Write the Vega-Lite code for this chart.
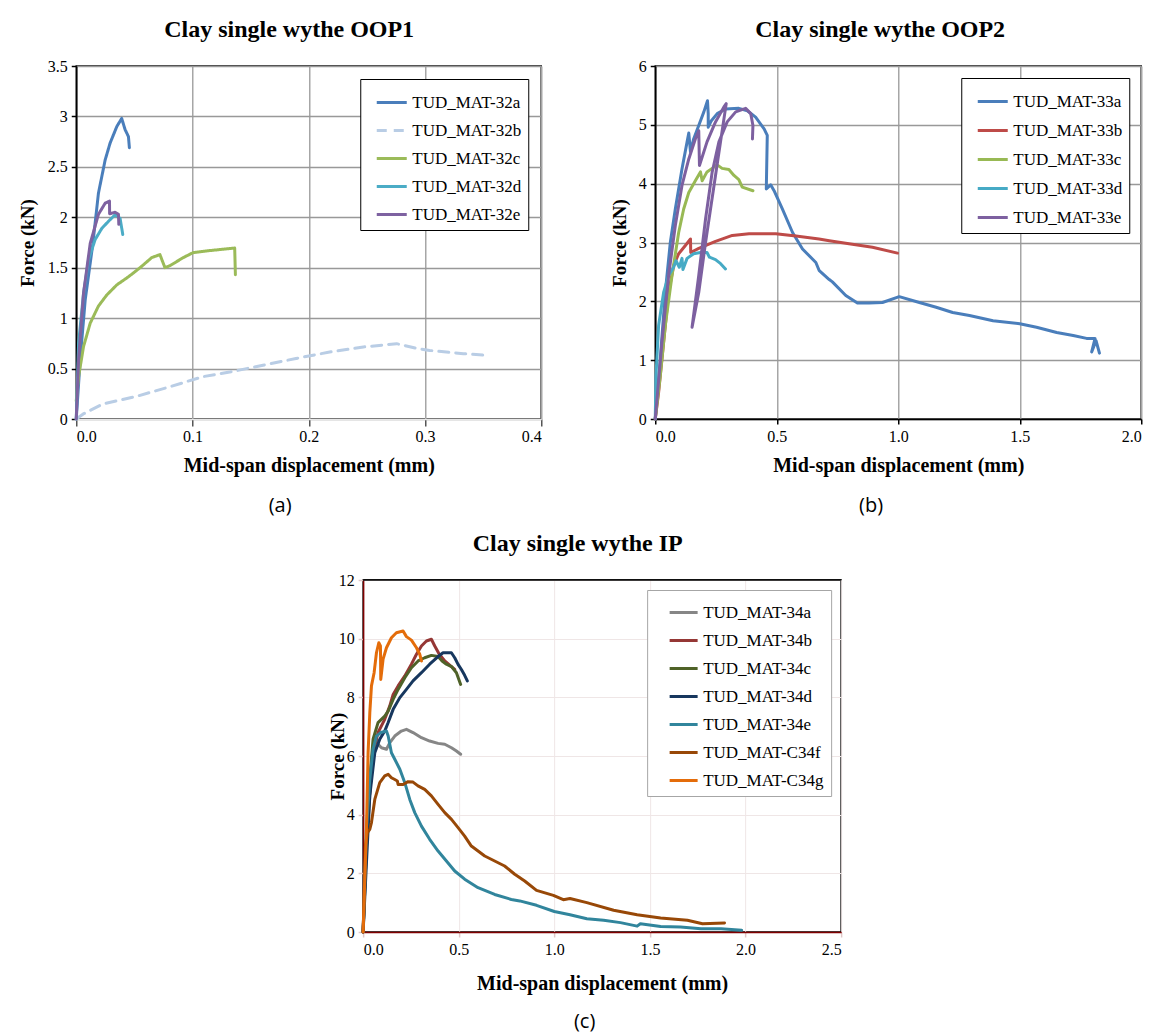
{
"$schema": "https://vega.github.io/schema/vega-lite/v6.json",
"background": "white",
"padding": {"left": 17, "top": 17, "right": 5, "bottom": 5},
"config": {
  "font": "Liberation Serif",
  "title": {"font": "Liberation Serif", "fontSize": 24, "fontWeight": "bold", "color": "black", "offset": 16, "frame": "bounds"},
  "style": {"guide-label": {"font": "Liberation Serif", "fontSize": 16, "fill": "black"}, "guide-title": {"font": "Liberation Serif", "fontSize": 19, "fontWeight": "bold", "fill": "black"}},
  "axis": {"labelFont": "Liberation Serif", "labelFontSize": 16, "labelColor": "black", "titleFont": "Liberation Serif", "titleFontSize": 19, "titleFontWeight": "bold", "titleColor": "black", "domainColor": "black", "domainWidth": 1.5, "tickColor": "black", "tickSize": 5, "tickWidth": 1.5, "gridColor": "#999999", "gridWidth": 1.5, "labelPadding": 4, "titlePadding": 10},
  "axisX": {"titleFontSize": 20, "titlePadding": 11},
  "legend": {"orient": "top-right", "labelFont": "Liberation Serif", "labelFontSize": 17, "labelColor": "black", "symbolType": "stroke", "symbolSize": 900, "symbolStrokeWidth": 3, "rowPadding": 3, "labelOffset": 4, "padding": 7, "symbolOffset": 6, "strokeColor": "black", "fillColor": "white", "labelLimit": 300, "offset": 12},
  "view": {"stroke": "black", "strokeWidth": 1.5},
  "line": {"strokeCap": "round", "strokeJoin": "round"}
},
"datasets": {
"a": [
{"s":"TUD_MAT-32a","i":0,"x":0,"y":0},{"s":"TUD_MAT-32a","i":1,"x":0.0034,"y":0.59},{"s":"TUD_MAT-32a","i":2,"x":0.0077,"y":1.18},{"s":"TUD_MAT-32a","i":3,"x":0.0143,"y":1.74},{"s":"TUD_MAT-32a","i":4,"x":0.0191,"y":2.24},{"s":"TUD_MAT-32a","i":5,"x":0.0249,"y":2.57},{"s":"TUD_MAT-32a","i":6,"x":0.0291,"y":2.735},{"s":"TUD_MAT-32a","i":7,"x":0.0349,"y":2.90},{"s":"TUD_MAT-32a","i":8,"x":0.0391,"y":2.98},{"s":"TUD_MAT-32a","i":9,"x":0.042,"y":2.87},{"s":"TUD_MAT-32a","i":10,"x":0.0449,"y":2.80},{"s":"TUD_MAT-32a","i":11,"x":0.0457,"y":2.69},
{"s":"TUD_MAT-32b","i":0,"x":0,"y":0},{"s":"TUD_MAT-32b","i":1,"x":0.006,"y":0.05},{"s":"TUD_MAT-32b","i":2,"x":0.023,"y":0.15},{"s":"TUD_MAT-32b","i":3,"x":0.052,"y":0.225},{"s":"TUD_MAT-32b","i":4,"x":0.0806,"y":0.32},{"s":"TUD_MAT-32b","i":5,"x":0.109,"y":0.42},{"s":"TUD_MAT-32b","i":6,"x":0.132,"y":0.465},{"s":"TUD_MAT-32b","i":7,"x":0.1606,"y":0.533},{"s":"TUD_MAT-32b","i":8,"x":0.189,"y":0.60},{"s":"TUD_MAT-32b","i":9,"x":0.218,"y":0.664},{"s":"TUD_MAT-32b","i":10,"x":0.247,"y":0.714},{"s":"TUD_MAT-32b","i":11,"x":0.2756,"y":0.747},{"s":"TUD_MAT-32b","i":12,"x":0.293,"y":0.70},{"s":"TUD_MAT-32b","i":13,"x":0.304,"y":0.68},{"s":"TUD_MAT-32b","i":14,"x":0.333,"y":0.648},{"s":"TUD_MAT-32b","i":15,"x":0.3546,"y":0.63},
{"s":"TUD_MAT-32c","i":0,"x":0,"y":0.18},{"s":"TUD_MAT-32c","i":1,"x":0.002,"y":0.42},{"s":"TUD_MAT-32c","i":2,"x":0.0063,"y":0.72},{"s":"TUD_MAT-32c","i":3,"x":0.012,"y":0.95},{"s":"TUD_MAT-32c","i":4,"x":0.0191,"y":1.12},{"s":"TUD_MAT-32c","i":5,"x":0.0263,"y":1.23},{"s":"TUD_MAT-32c","i":6,"x":0.0349,"y":1.33},{"s":"TUD_MAT-32c","i":7,"x":0.0449,"y":1.41},{"s":"TUD_MAT-32c","i":8,"x":0.0549,"y":1.50},{"s":"TUD_MAT-32c","i":9,"x":0.0649,"y":1.60},{"s":"TUD_MAT-32c","i":10,"x":0.072,"y":1.63},{"s":"TUD_MAT-32c","i":11,"x":0.0763,"y":1.50},{"s":"TUD_MAT-32c","i":12,"x":0.0806,"y":1.52},{"s":"TUD_MAT-32c","i":13,"x":0.092,"y":1.60},{"s":"TUD_MAT-32c","i":14,"x":0.1006,"y":1.65},{"s":"TUD_MAT-32c","i":15,"x":0.1149,"y":1.67},{"s":"TUD_MAT-32c","i":16,"x":0.1363,"y":1.695},{"s":"TUD_MAT-32c","i":17,"x":0.1369,"y":1.43},
{"s":"TUD_MAT-32d","i":0,"x":0,"y":0},{"s":"TUD_MAT-32d","i":1,"x":0.002,"y":0.75},{"s":"TUD_MAT-32d","i":2,"x":0.0063,"y":1.25},{"s":"TUD_MAT-32d","i":3,"x":0.0106,"y":1.58},{"s":"TUD_MAT-32d","i":4,"x":0.0163,"y":1.78},{"s":"TUD_MAT-32d","i":5,"x":0.022,"y":1.89},{"s":"TUD_MAT-32d","i":6,"x":0.0277,"y":1.96},{"s":"TUD_MAT-32d","i":7,"x":0.0334,"y":2.025},{"s":"TUD_MAT-32d","i":8,"x":0.0377,"y":1.99},{"s":"TUD_MAT-32d","i":9,"x":0.04,"y":1.83},
{"s":"TUD_MAT-32e","i":0,"x":0,"y":0},{"s":"TUD_MAT-32e","i":1,"x":0.002,"y":0.59},{"s":"TUD_MAT-32e","i":2,"x":0.0063,"y":1.25},{"s":"TUD_MAT-32e","i":3,"x":0.012,"y":1.74},{"s":"TUD_MAT-32e","i":4,"x":0.0191,"y":2.03},{"s":"TUD_MAT-32e","i":5,"x":0.0249,"y":2.14},{"s":"TUD_MAT-32e","i":6,"x":0.0286,"y":2.16},{"s":"TUD_MAT-32e","i":7,"x":0.0287,"y":2.035},{"s":"TUD_MAT-32e","i":8,"x":0.0334,"y":2.05},{"s":"TUD_MAT-32e","i":9,"x":0.0363,"y":2.03},{"s":"TUD_MAT-32e","i":10,"x":0.0366,"y":1.93}
],
"b": [
{"s":"TUD_MAT-33a","i":0,"x":0,"y":0},{"s":"TUD_MAT-33a","i":1,"x":0.0207,"y":1.02},{"s":"TUD_MAT-33a","i":2,"x":0.0413,"y":2.15},{"s":"TUD_MAT-33a","i":3,"x":0.062,"y":3.0},{"s":"TUD_MAT-33a","i":4,"x":0.0826,"y":3.57},{"s":"TUD_MAT-33a","i":5,"x":0.110,"y":4.25},{"s":"TUD_MAT-33a","i":6,"x":0.131,"y":4.71},{"s":"TUD_MAT-33a","i":7,"x":0.138,"y":4.86},{"s":"TUD_MAT-33a","i":8,"x":0.145,"y":4.54},{"s":"TUD_MAT-33a","i":9,"x":0.158,"y":4.76},{"s":"TUD_MAT-33a","i":10,"x":0.179,"y":4.99},{"s":"TUD_MAT-33a","i":11,"x":0.20,"y":5.22},{"s":"TUD_MAT-33a","i":12,"x":0.215,"y":5.41},{"s":"TUD_MAT-33a","i":13,"x":0.218,"y":5.19},{"s":"TUD_MAT-33a","i":14,"x":0.218,"y":4.96},{"s":"TUD_MAT-33a","i":15,"x":0.231,"y":5.07},{"s":"TUD_MAT-33a","i":16,"x":0.255,"y":5.19},{"s":"TUD_MAT-33a","i":17,"x":0.289,"y":5.27},{"s":"TUD_MAT-33a","i":18,"x":0.344,"y":5.28},{"s":"TUD_MAT-33a","i":19,"x":0.379,"y":5.24},{"s":"TUD_MAT-33a","i":20,"x":0.413,"y":5.13},{"s":"TUD_MAT-33a","i":21,"x":0.448,"y":4.93},{"s":"TUD_MAT-33a","i":22,"x":0.461,"y":4.82},{"s":"TUD_MAT-33a","i":23,"x":0.457,"y":3.91},{"s":"TUD_MAT-33a","i":24,"x":0.475,"y":3.98},{"s":"TUD_MAT-33a","i":25,"x":0.489,"y":3.88},{"s":"TUD_MAT-33a","i":26,"x":0.523,"y":3.57},{"s":"TUD_MAT-33a","i":27,"x":0.565,"y":3.17},{"s":"TUD_MAT-33a","i":28,"x":0.606,"y":2.89},{"s":"TUD_MAT-33a","i":29,"x":0.661,"y":2.66},{"s":"TUD_MAT-33a","i":30,"x":0.675,"y":2.52},{"s":"TUD_MAT-33a","i":31,"x":0.716,"y":2.37},{"s":"TUD_MAT-33a","i":32,"x":0.729,"y":2.33},{"s":"TUD_MAT-33a","i":33,"x":0.784,"y":2.10},{"s":"TUD_MAT-33a","i":34,"x":0.832,"y":1.97},{"s":"TUD_MAT-33a","i":35,"x":0.880,"y":1.97},{"s":"TUD_MAT-33a","i":36,"x":0.935,"y":1.98},{"s":"TUD_MAT-33a","i":37,"x":1.004,"y":2.08},{"s":"TUD_MAT-33a","i":38,"x":1.087,"y":1.98},{"s":"TUD_MAT-33a","i":39,"x":1.156,"y":1.90},{"s":"TUD_MAT-33a","i":40,"x":1.224,"y":1.81},{"s":"TUD_MAT-33a","i":41,"x":1.293,"y":1.76},{"s":"TUD_MAT-33a","i":42,"x":1.39,"y":1.67},{"s":"TUD_MAT-33a","i":43,"x":1.50,"y":1.62},{"s":"TUD_MAT-33a","i":44,"x":1.569,"y":1.56},{"s":"TUD_MAT-33a","i":45,"x":1.652,"y":1.47},{"s":"TUD_MAT-33a","i":46,"x":1.72,"y":1.42},{"s":"TUD_MAT-33a","i":47,"x":1.775,"y":1.37},{"s":"TUD_MAT-33a","i":48,"x":1.81,"y":1.37},{"s":"TUD_MAT-33a","i":49,"x":1.796,"y":1.14},{"s":"TUD_MAT-33a","i":50,"x":1.814,"y":1.33},{"s":"TUD_MAT-33a","i":51,"x":1.828,"y":1.12},
{"s":"TUD_MAT-33b","i":0,"x":0,"y":0},{"s":"TUD_MAT-33b","i":1,"x":0.0138,"y":0.45},{"s":"TUD_MAT-33b","i":2,"x":0.0344,"y":1.30},{"s":"TUD_MAT-33b","i":3,"x":0.055,"y":2.15},{"s":"TUD_MAT-33b","i":4,"x":0.0758,"y":2.61},{"s":"TUD_MAT-33b","i":5,"x":0.0964,"y":2.81},{"s":"TUD_MAT-33b","i":6,"x":0.124,"y":2.95},{"s":"TUD_MAT-33b","i":7,"x":0.145,"y":3.06},{"s":"TUD_MAT-33b","i":8,"x":0.146,"y":2.83},{"s":"TUD_MAT-33b","i":9,"x":0.179,"y":2.90},{"s":"TUD_MAT-33b","i":10,"x":0.248,"y":3.02},{"s":"TUD_MAT-33b","i":11,"x":0.317,"y":3.12},{"s":"TUD_MAT-33b","i":12,"x":0.386,"y":3.15},{"s":"TUD_MAT-33b","i":13,"x":0.496,"y":3.15},{"s":"TUD_MAT-33b","i":14,"x":0.579,"y":3.11},{"s":"TUD_MAT-33b","i":15,"x":0.674,"y":3.06},{"s":"TUD_MAT-33b","i":16,"x":0.716,"y":3.03},{"s":"TUD_MAT-33b","i":17,"x":0.811,"y":2.97},{"s":"TUD_MAT-33b","i":18,"x":0.894,"y":2.92},{"s":"TUD_MAT-33b","i":19,"x":0.997,"y":2.82},
{"s":"TUD_MAT-33c","i":0,"x":0,"y":0},{"s":"TUD_MAT-33c","i":1,"x":0.0207,"y":0.74},{"s":"TUD_MAT-33c","i":2,"x":0.0413,"y":1.59},{"s":"TUD_MAT-33c","i":3,"x":0.069,"y":2.44},{"s":"TUD_MAT-33c","i":4,"x":0.0964,"y":3.17},{"s":"TUD_MAT-33c","i":5,"x":0.117,"y":3.57},{"s":"TUD_MAT-33c","i":6,"x":0.138,"y":3.85},{"s":"TUD_MAT-33c","i":7,"x":0.165,"y":4.05},{"s":"TUD_MAT-33c","i":8,"x":0.186,"y":4.20},{"s":"TUD_MAT-33c","i":9,"x":0.193,"y":4.05},{"s":"TUD_MAT-33c","i":10,"x":0.213,"y":4.20},{"s":"TUD_MAT-33c","i":11,"x":0.234,"y":4.26},{"s":"TUD_MAT-33c","i":12,"x":0.255,"y":4.32},{"s":"TUD_MAT-33c","i":13,"x":0.275,"y":4.26},{"s":"TUD_MAT-33c","i":14,"x":0.303,"y":4.24},{"s":"TUD_MAT-33c","i":15,"x":0.324,"y":4.14},{"s":"TUD_MAT-33c","i":16,"x":0.344,"y":4.07},{"s":"TUD_MAT-33c","i":17,"x":0.358,"y":3.94},{"s":"TUD_MAT-33c","i":18,"x":0.402,"y":3.88},
{"s":"TUD_MAT-33d","i":0,"x":0,"y":0},{"s":"TUD_MAT-33d","i":1,"x":0.003,"y":0.74},{"s":"TUD_MAT-33d","i":2,"x":0.0138,"y":1.59},{"s":"TUD_MAT-33d","i":3,"x":0.0344,"y":2.15},{"s":"TUD_MAT-33d","i":4,"x":0.055,"y":2.44},{"s":"TUD_MAT-33d","i":5,"x":0.0758,"y":2.58},{"s":"TUD_MAT-33d","i":6,"x":0.0854,"y":2.69},{"s":"TUD_MAT-33d","i":7,"x":0.099,"y":2.58},{"s":"TUD_MAT-33d","i":8,"x":0.110,"y":2.73},{"s":"TUD_MAT-33d","i":9,"x":0.114,"y":2.54},{"s":"TUD_MAT-33d","i":10,"x":0.131,"y":2.73},{"s":"TUD_MAT-33d","i":11,"x":0.158,"y":2.81},{"s":"TUD_MAT-33d","i":12,"x":0.186,"y":2.83},{"s":"TUD_MAT-33d","i":13,"x":0.213,"y":2.83},{"s":"TUD_MAT-33d","i":14,"x":0.223,"y":2.75},{"s":"TUD_MAT-33d","i":15,"x":0.248,"y":2.71},{"s":"TUD_MAT-33d","i":16,"x":0.269,"y":2.64},{"s":"TUD_MAT-33d","i":17,"x":0.289,"y":2.55},
{"s":"TUD_MAT-33e","i":0,"x":0,"y":0},{"s":"TUD_MAT-33e","i":1,"x":0.0275,"y":1.30},{"s":"TUD_MAT-33e","i":2,"x":0.055,"y":2.44},{"s":"TUD_MAT-33e","i":3,"x":0.0826,"y":3.29},{"s":"TUD_MAT-33e","i":4,"x":0.110,"y":3.97},{"s":"TUD_MAT-33e","i":5,"x":0.138,"y":4.42},{"s":"TUD_MAT-33e","i":6,"x":0.165,"y":4.76},{"s":"TUD_MAT-33e","i":7,"x":0.179,"y":4.90},{"s":"TUD_MAT-33e","i":8,"x":0.182,"y":4.31},{"s":"TUD_MAT-33e","i":9,"x":0.213,"y":4.71},{"s":"TUD_MAT-33e","i":10,"x":0.248,"y":5.05},{"s":"TUD_MAT-33e","i":11,"x":0.282,"y":5.30},{"s":"TUD_MAT-33e","i":12,"x":0.292,"y":5.36},{"s":"TUD_MAT-33e","i":13,"x":0.248,"y":4.14},{"s":"TUD_MAT-33e","i":14,"x":0.207,"y":3.00},{"s":"TUD_MAT-33e","i":15,"x":0.179,"y":2.15},{"s":"TUD_MAT-33e","i":16,"x":0.1515,"y":1.56},{"s":"TUD_MAT-33e","i":17,"x":0.179,"y":2.44},{"s":"TUD_MAT-33e","i":18,"x":0.207,"y":3.40},{"s":"TUD_MAT-33e","i":19,"x":0.234,"y":4.19},{"s":"TUD_MAT-33e","i":20,"x":0.262,"y":4.71},{"s":"TUD_MAT-33e","i":21,"x":0.296,"y":5.05},{"s":"TUD_MAT-33e","i":22,"x":0.331,"y":5.22},{"s":"TUD_MAT-33e","i":23,"x":0.372,"y":5.28},{"s":"TUD_MAT-33e","i":24,"x":0.393,"y":5.19},{"s":"TUD_MAT-33e","i":25,"x":0.402,"y":4.99},{"s":"TUD_MAT-33e","i":26,"x":0.40,"y":4.76}
],
"c": [
{"s":"TUD_MAT-34a","i":0,"x":0,"y":0},{"s":"TUD_MAT-34a","i":1,"x":0.0174,"y":2.93},{"s":"TUD_MAT-34a","i":2,"x":0.0348,"y":4.64},{"s":"TUD_MAT-34a","i":3,"x":0.052,"y":6.34},{"s":"TUD_MAT-34a","i":4,"x":0.061,"y":6.68},{"s":"TUD_MAT-34a","i":5,"x":0.078,"y":6.40},{"s":"TUD_MAT-34a","i":6,"x":0.096,"y":6.28},{"s":"TUD_MAT-34a","i":7,"x":0.122,"y":6.23},{"s":"TUD_MAT-34a","i":8,"x":0.139,"y":6.45},{"s":"TUD_MAT-34a","i":9,"x":0.1655,"y":6.68},{"s":"TUD_MAT-34a","i":10,"x":0.200,"y":6.85},{"s":"TUD_MAT-34a","i":11,"x":0.2265,"y":6.91},{"s":"TUD_MAT-34a","i":12,"x":0.261,"y":6.80},{"s":"TUD_MAT-34a","i":13,"x":0.305,"y":6.625},{"s":"TUD_MAT-34a","i":14,"x":0.348,"y":6.51},{"s":"TUD_MAT-34a","i":15,"x":0.392,"y":6.43},{"s":"TUD_MAT-34a","i":16,"x":0.427,"y":6.40},{"s":"TUD_MAT-34a","i":17,"x":0.462,"y":6.28},{"s":"TUD_MAT-34a","i":18,"x":0.488,"y":6.17},{"s":"TUD_MAT-34a","i":19,"x":0.510,"y":6.06},
{"s":"TUD_MAT-34b","i":0,"x":0,"y":0},{"s":"TUD_MAT-34b","i":1,"x":0.0087,"y":1.80},{"s":"TUD_MAT-34b","i":2,"x":0.026,"y":4.07},{"s":"TUD_MAT-34b","i":3,"x":0.052,"y":6.11},{"s":"TUD_MAT-34b","i":4,"x":0.078,"y":6.80},{"s":"TUD_MAT-34b","i":5,"x":0.113,"y":7.25},{"s":"TUD_MAT-34b","i":6,"x":0.139,"y":7.70},{"s":"TUD_MAT-34b","i":7,"x":0.157,"y":8.10},{"s":"TUD_MAT-34b","i":8,"x":0.183,"y":8.39},{"s":"TUD_MAT-34b","i":9,"x":0.218,"y":8.73},{"s":"TUD_MAT-34b","i":10,"x":0.2526,"y":9.13},{"s":"TUD_MAT-34b","i":11,"x":0.279,"y":9.47},{"s":"TUD_MAT-34b","i":12,"x":0.305,"y":9.75},{"s":"TUD_MAT-34b","i":13,"x":0.331,"y":9.92},{"s":"TUD_MAT-34b","i":14,"x":0.357,"y":9.98},{"s":"TUD_MAT-34b","i":15,"x":0.3746,"y":9.75},{"s":"TUD_MAT-34b","i":16,"x":0.3955,"y":9.50},{"s":"TUD_MAT-34b","i":17,"x":0.427,"y":9.24},{"s":"TUD_MAT-34b","i":18,"x":0.462,"y":9.05},{"s":"TUD_MAT-34b","i":19,"x":0.479,"y":8.95},
{"s":"TUD_MAT-34c","i":0,"x":0,"y":0},{"s":"TUD_MAT-34c","i":1,"x":0.0174,"y":2.93},{"s":"TUD_MAT-34c","i":2,"x":0.0348,"y":5.20},{"s":"TUD_MAT-34c","i":3,"x":0.052,"y":6.57},{"s":"TUD_MAT-34c","i":4,"x":0.078,"y":7.14},{"s":"TUD_MAT-34c","i":5,"x":0.113,"y":7.36},{"s":"TUD_MAT-34c","i":6,"x":0.131,"y":7.53},{"s":"TUD_MAT-34c","i":7,"x":0.157,"y":7.93},{"s":"TUD_MAT-34c","i":8,"x":0.183,"y":8.27},{"s":"TUD_MAT-34c","i":9,"x":0.218,"y":8.67},{"s":"TUD_MAT-34c","i":10,"x":0.2526,"y":9.01},{"s":"TUD_MAT-34c","i":11,"x":0.2875,"y":9.24},{"s":"TUD_MAT-34c","i":12,"x":0.322,"y":9.35},{"s":"TUD_MAT-34c","i":13,"x":0.357,"y":9.43},{"s":"TUD_MAT-34c","i":14,"x":0.392,"y":9.39},{"s":"TUD_MAT-34c","i":15,"x":0.413,"y":9.24},{"s":"TUD_MAT-34c","i":16,"x":0.4355,"y":9.13},{"s":"TUD_MAT-34c","i":17,"x":0.462,"y":9.05},{"s":"TUD_MAT-34c","i":18,"x":0.488,"y":8.84},{"s":"TUD_MAT-34c","i":19,"x":0.510,"y":8.44},
{"s":"TUD_MAT-34d","i":0,"x":0,"y":0},{"s":"TUD_MAT-34d","i":1,"x":0.0174,"y":2.36},{"s":"TUD_MAT-34d","i":2,"x":0.0348,"y":4.64},{"s":"TUD_MAT-34d","i":3,"x":0.061,"y":6.11},{"s":"TUD_MAT-34d","i":4,"x":0.087,"y":6.57},{"s":"TUD_MAT-34d","i":5,"x":0.113,"y":6.85},{"s":"TUD_MAT-34d","i":6,"x":0.131,"y":7.14},{"s":"TUD_MAT-34d","i":7,"x":0.157,"y":7.59},{"s":"TUD_MAT-34d","i":8,"x":0.192,"y":7.99},{"s":"TUD_MAT-34d","i":9,"x":0.2265,"y":8.27},{"s":"TUD_MAT-34d","i":10,"x":0.261,"y":8.56},{"s":"TUD_MAT-34d","i":11,"x":0.305,"y":8.84},{"s":"TUD_MAT-34d","i":12,"x":0.348,"y":9.13},{"s":"TUD_MAT-34d","i":13,"x":0.392,"y":9.39},{"s":"TUD_MAT-34d","i":14,"x":0.418,"y":9.52},{"s":"TUD_MAT-34d","i":15,"x":0.4617,"y":9.52},{"s":"TUD_MAT-34d","i":16,"x":0.479,"y":9.35},{"s":"TUD_MAT-34d","i":17,"x":0.4965,"y":9.125},{"s":"TUD_MAT-34d","i":18,"x":0.514,"y":8.95},{"s":"TUD_MAT-34d","i":19,"x":0.531,"y":8.75},{"s":"TUD_MAT-34d","i":20,"x":0.545,"y":8.56},
{"s":"TUD_MAT-34e","i":0,"x":0,"y":0},{"s":"TUD_MAT-34e","i":1,"x":0.0087,"y":1.80},{"s":"TUD_MAT-34e","i":2,"x":0.0174,"y":3.50},{"s":"TUD_MAT-34e","i":3,"x":0.0348,"y":5.20},{"s":"TUD_MAT-34e","i":4,"x":0.052,"y":6.23},{"s":"TUD_MAT-34e","i":5,"x":0.0697,"y":6.68},{"s":"TUD_MAT-34e","i":6,"x":0.092,"y":6.80},{"s":"TUD_MAT-34e","i":7,"x":0.122,"y":6.85},{"s":"TUD_MAT-34e","i":8,"x":0.131,"y":6.68},{"s":"TUD_MAT-34e","i":9,"x":0.148,"y":6.11},{"s":"TUD_MAT-34e","i":10,"x":0.1655,"y":5.89},{"s":"TUD_MAT-34e","i":11,"x":0.192,"y":5.55},{"s":"TUD_MAT-34e","i":12,"x":0.218,"y":5.09},{"s":"TUD_MAT-34e","i":13,"x":0.244,"y":4.52},{"s":"TUD_MAT-34e","i":14,"x":0.270,"y":4.07},{"s":"TUD_MAT-34e","i":15,"x":0.305,"y":3.61},{"s":"TUD_MAT-34e","i":16,"x":0.348,"y":3.16},{"s":"TUD_MAT-34e","i":17,"x":0.392,"y":2.76},{"s":"TUD_MAT-34e","i":18,"x":0.4355,"y":2.42},{"s":"TUD_MAT-34e","i":19,"x":0.479,"y":2.08},{"s":"TUD_MAT-34e","i":20,"x":0.531,"y":1.80},{"s":"TUD_MAT-34e","i":21,"x":0.601,"y":1.51},{"s":"TUD_MAT-34e","i":22,"x":0.688,"y":1.28},{"s":"TUD_MAT-34e","i":23,"x":0.775,"y":1.11},{"s":"TUD_MAT-34e","i":24,"x":0.819,"y":1.06},{"s":"TUD_MAT-34e","i":25,"x":0.907,"y":0.91},{"s":"TUD_MAT-34e","i":26,"x":1.0,"y":0.70},{"s":"TUD_MAT-34e","i":27,"x":1.082,"y":0.59},{"s":"TUD_MAT-34e","i":28,"x":1.17,"y":0.45},{"s":"TUD_MAT-34e","i":29,"x":1.258,"y":0.40},{"s":"TUD_MAT-34e","i":30,"x":1.346,"y":0.32},{"s":"TUD_MAT-34e","i":31,"x":1.433,"y":0.20},{"s":"TUD_MAT-34e","i":32,"x":1.45,"y":0.28},{"s":"TUD_MAT-34e","i":33,"x":1.556,"y":0.19},{"s":"TUD_MAT-34e","i":34,"x":1.66,"y":0.17},{"s":"TUD_MAT-34e","i":35,"x":1.767,"y":0.11},{"s":"TUD_MAT-34e","i":36,"x":1.872,"y":0.11},{"s":"TUD_MAT-34e","i":37,"x":1.98,"y":0.06},
{"s":"TUD_MAT-C34f","i":0,"x":0,"y":0},{"s":"TUD_MAT-C34f","i":1,"x":0.005,"y":1.23},{"s":"TUD_MAT-C34f","i":2,"x":0.012,"y":2.93},{"s":"TUD_MAT-C34f","i":3,"x":0.0226,"y":3.39},{"s":"TUD_MAT-C34f","i":4,"x":0.0348,"y":3.50},{"s":"TUD_MAT-C34f","i":5,"x":0.0436,"y":3.73},{"s":"TUD_MAT-C34f","i":6,"x":0.061,"y":4.52},{"s":"TUD_MAT-C34f","i":7,"x":0.087,"y":5.09},{"s":"TUD_MAT-C34f","i":8,"x":0.113,"y":5.32},{"s":"TUD_MAT-C34f","i":9,"x":0.131,"y":5.375},{"s":"TUD_MAT-C34f","i":10,"x":0.148,"y":5.26},{"s":"TUD_MAT-C34f","i":11,"x":0.1655,"y":5.20},{"s":"TUD_MAT-C34f","i":12,"x":0.179,"y":5.15},{"s":"TUD_MAT-C34f","i":13,"x":0.183,"y":5.03},{"s":"TUD_MAT-C34f","i":14,"x":0.209,"y":5.03},{"s":"TUD_MAT-C34f","i":15,"x":0.235,"y":5.125},{"s":"TUD_MAT-C34f","i":16,"x":0.261,"y":5.11},{"s":"TUD_MAT-C34f","i":17,"x":0.287,"y":4.98},{"s":"TUD_MAT-C34f","i":18,"x":0.322,"y":4.86},{"s":"TUD_MAT-C34f","i":19,"x":0.357,"y":4.64},{"s":"TUD_MAT-C34f","i":20,"x":0.392,"y":4.35},{"s":"TUD_MAT-C34f","i":21,"x":0.427,"y":4.07},{"s":"TUD_MAT-C34f","i":22,"x":0.462,"y":3.84},{"s":"TUD_MAT-C34f","i":23,"x":0.4965,"y":3.56},{"s":"TUD_MAT-C34f","i":24,"x":0.531,"y":3.27},{"s":"TUD_MAT-C34f","i":25,"x":0.566,"y":2.93},{"s":"TUD_MAT-C34f","i":26,"x":0.601,"y":2.76},{"s":"TUD_MAT-C34f","i":27,"x":0.636,"y":2.59},{"s":"TUD_MAT-C34f","i":28,"x":0.688,"y":2.42},{"s":"TUD_MAT-C34f","i":29,"x":0.740,"y":2.25},{"s":"TUD_MAT-C34f","i":30,"x":0.793,"y":1.97},{"s":"TUD_MAT-C34f","i":31,"x":0.845,"y":1.74},{"s":"TUD_MAT-C34f","i":32,"x":0.907,"y":1.42},{"s":"TUD_MAT-C34f","i":33,"x":0.995,"y":1.25},{"s":"TUD_MAT-C34f","i":34,"x":1.047,"y":1.10},{"s":"TUD_MAT-C34f","i":35,"x":1.082,"y":1.14},{"s":"TUD_MAT-C34f","i":36,"x":1.17,"y":1.0},{"s":"TUD_MAT-C34f","i":37,"x":1.31,"y":0.74},{"s":"TUD_MAT-C34f","i":38,"x":1.433,"y":0.59},{"s":"TUD_MAT-C34f","i":39,"x":1.556,"y":0.48},{"s":"TUD_MAT-C34f","i":40,"x":1.696,"y":0.40},{"s":"TUD_MAT-C34f","i":41,"x":1.775,"y":0.28},{"s":"TUD_MAT-C34f","i":42,"x":1.89,"y":0.31},
{"s":"TUD_MAT-C34g","i":0,"x":0,"y":0},{"s":"TUD_MAT-C34g","i":1,"x":0.0087,"y":1.80},{"s":"TUD_MAT-C34g","i":2,"x":0.0174,"y":3.50},{"s":"TUD_MAT-C34g","i":3,"x":0.026,"y":6.11},{"s":"TUD_MAT-C34g","i":4,"x":0.035,"y":7.48},{"s":"TUD_MAT-C34g","i":5,"x":0.0436,"y":8.39},{"s":"TUD_MAT-C34g","i":6,"x":0.0575,"y":8.84},{"s":"TUD_MAT-C34g","i":7,"x":0.0697,"y":9.52},{"s":"TUD_MAT-C34g","i":8,"x":0.082,"y":9.86},{"s":"TUD_MAT-C34g","i":9,"x":0.0906,"y":9.75},{"s":"TUD_MAT-C34g","i":10,"x":0.0923,"y":8.61},{"s":"TUD_MAT-C34g","i":11,"x":0.1045,"y":9.30},{"s":"TUD_MAT-C34g","i":12,"x":0.122,"y":9.69},{"s":"TUD_MAT-C34g","i":13,"x":0.148,"y":10.03},{"s":"TUD_MAT-C34g","i":14,"x":0.174,"y":10.20},{"s":"TUD_MAT-C34g","i":15,"x":0.209,"y":10.26},{"s":"TUD_MAT-C34g","i":16,"x":0.2265,"y":10.07},{"s":"TUD_MAT-C34g","i":17,"x":0.2526,"y":9.95},{"s":"TUD_MAT-C34g","i":18,"x":0.279,"y":9.69},{"s":"TUD_MAT-C34g","i":19,"x":0.296,"y":9.47},{"s":"TUD_MAT-C34g","i":20,"x":0.305,"y":9.24}
]
},
"vconcat": [
 {"hconcat": [
  {"vconcat": [
   {"width": 465, "height": 353,
    "title": {"text": "Clay single wythe OOP1", "dx": 9},
    "data": {"name": "a"},
    "mark": {"type": "line", "strokeWidth": 3},
    "encoding": {
     "x": {"field": "x", "type": "quantitative", "scale": {"domain": [0, 0.4], "nice": false}, "axis": {"values": [0, 0.1, 0.2, 0.3, 0.4], "format": ".1f", "title": "Mid-span displacement (mm)", "domainColor": "#e8e8e8", "tickColor": "#555555", "tickSize": 7, "labelPadding": 2, "gridColor": "#a6a6a6"}},
     "y": {"field": "y", "type": "quantitative", "scale": {"domain": [0, 3.5], "nice": false}, "axis": {"values": [0, 0.5, 1, 1.5, 2, 2.5, 3, 3.5], "format": "~g", "title": "Force (kN)"}},
     "color": {"field": "s", "type": "nominal", "title": null, "scale": {"domain": ["TUD_MAT-32a", "TUD_MAT-32b", "TUD_MAT-32c", "TUD_MAT-32d", "TUD_MAT-32e"], "range": ["#4a7ebb", "#b9cde5", "#9bbb59", "#4bacc6", "#7e62a1"]}, "legend": {"symbolOffset": 8, "offset": 13}},
     "strokeDash": {"field": "s", "type": "nominal", "title": null, "scale": {"domain": ["TUD_MAT-32a", "TUD_MAT-32b", "TUD_MAT-32c", "TUD_MAT-32d", "TUD_MAT-32e"], "range": [[1, 0], [10, 7], [1, 0], [1, 0], [1, 0]]}, "legend": {"symbolOffset": 8, "offset": 13}},
     "order": {"field": "i", "type": "quantitative"}
    }
   }
  ], "title": {"text": "(a)", "orient": "bottom", "anchor": "middle", "font": "Open Sans", "fontSize": 20, "fontWeight": "normal", "offset": 20},
  "resolve": {"scale": {"color": "independent", "strokeDash": "independent", "strokeWidth": "independent"}, "legend": {"color": "independent", "strokeDash": "independent", "strokeWidth": "independent"}}},
  {"vconcat": [
   {"width": 486, "height": 353,
    "title": {"text": "Clay single wythe OOP2", "dx": 4},
    "data": {"name": "b"},
    "mark": {"type": "line", "strokeWidth": 3},
    "encoding": {
     "x": {"field": "x", "type": "quantitative", "scale": {"domain": [0, 2], "nice": false}, "axis": {"values": [0, 0.5, 1, 1.5, 2], "format": ".1f", "title": "Mid-span displacement (mm)", "gridColor": "#a6a6a6"}},
     "y": {"field": "y", "type": "quantitative", "scale": {"domain": [0, 6], "nice": false}, "axis": {"values": [0, 1, 2, 3, 4, 5, 6], "format": "d", "title": "Force (kN)", "titlePadding": 9}},
     "color": {"field": "s", "type": "nominal", "title": null, "scale": {"domain": ["TUD_MAT-33a", "TUD_MAT-33b", "TUD_MAT-33c", "TUD_MAT-33d", "TUD_MAT-33e"], "range": ["#4a7ebb", "#be4b48", "#98b954", "#46aac5", "#7d60a0"]}, "legend": {"rowPadding": 4, "symbolOffset": 8, "offset": 12}},
     "order": {"field": "i", "type": "quantitative"}
    }
   }
  ], "title": {"text": "(b)", "orient": "bottom", "anchor": "middle", "font": "Open Sans", "fontSize": 20, "fontWeight": "normal", "offset": 20, "dx": -5},
  "resolve": {"scale": {"color": "independent", "strokeDash": "independent", "strokeWidth": "independent"}, "legend": {"color": "independent", "strokeDash": "independent", "strokeWidth": "independent"}}}
 ], "spacing": 66,
 "resolve": {"scale": {"color": "independent", "strokeDash": "independent", "strokeWidth": "independent"}, "legend": {"color": "independent", "strokeDash": "independent", "strokeWidth": "independent"}}},
 {"vconcat": [
   {"width": 478, "height": 352,
    "title": {"text": "Clay single wythe IP", "dx": -14},
    "layer": [
     {"data": {"name": "c"},
      "mark": {"type": "line"},
      "encoding": {
       "x": {"field": "x", "type": "quantitative", "scale": {"domain": [0, 2.5], "nice": false}, "axis": {"values": [0, 0.5, 1, 1.5, 2, 2.5], "format": ".1f", "title": "Mid-span displacement (mm)", "titlePadding": 16, "domainColor": "#800000", "tickColor": "#e0c8c8", "gridColor": "#efe6e6", "gridWidth": 1}},
       "y": {"field": "y", "type": "quantitative", "scale": {"domain": [0, 12], "nice": false}, "axis": {"values": [0, 2, 4, 6, 8, 10, 12], "format": "d", "title": "Force (kN)", "titlePadding": -9, "domainColor": "#800000", "tickColor": "#e0c8c8", "gridColor": "#efe6e6", "gridWidth": 1}},
       "color": {"field": "s", "type": "nominal", "title": null, "scale": {"domain": ["TUD_MAT-34a", "TUD_MAT-34b", "TUD_MAT-34c", "TUD_MAT-34d", "TUD_MAT-34e", "TUD_MAT-C34f", "TUD_MAT-C34g"], "range": ["#868686", "#953735", "#4f6228", "#17375e", "#31859c", "#984807", "#e46c0a"]}, "legend": {"strokeColor": "#a6a6a6", "symbolSize": 784, "symbolOffset": 14, "rowPadding": 4, "offset": 10}},
       "strokeWidth": {"field": "s", "type": "nominal", "title": null, "scale": {"domain": ["TUD_MAT-34a", "TUD_MAT-34b", "TUD_MAT-34c", "TUD_MAT-34d", "TUD_MAT-34e", "TUD_MAT-C34f", "TUD_MAT-C34g"], "range": [3, 3, 2, 3, 3, 3, 3]}, "legend": {"strokeColor": "#a6a6a6", "symbolSize": 784, "symbolOffset": 14, "rowPadding": 4, "offset": 10}},
       "order": {"field": "i", "type": "quantitative"}
      }
     },
     {"data": {"values": [{}]},
      "mark": {"type": "rule", "color": "black", "strokeWidth": 1.5},
      "encoding": {"y": {"datum": 12, "type": "quantitative", "axis": {"orient": "right", "labels": false, "ticks": false, "domain": false, "grid": false, "title": null, "minExtent": 14, "maxExtent": 14}}}
     }
    ],
    "resolve": {"axis": {"y": "independent"}}
   }
  ], "title": {"text": "(c)", "orient": "bottom", "anchor": "middle", "font": "Open Sans", "fontSize": 20, "fontWeight": "normal", "offset": 18, "dx": -7},
  "resolve": {"scale": {"color": "independent", "strokeDash": "independent", "strokeWidth": "independent"}, "legend": {"color": "independent", "strokeDash": "independent", "strokeWidth": "independent"}}}
],
"center": true,
"spacing": 15,
"resolve": {"scale": {"color": "independent", "strokeDash": "independent", "strokeWidth": "independent"}, "legend": {"color": "independent", "strokeDash": "independent", "strokeWidth": "independent"}}
}
